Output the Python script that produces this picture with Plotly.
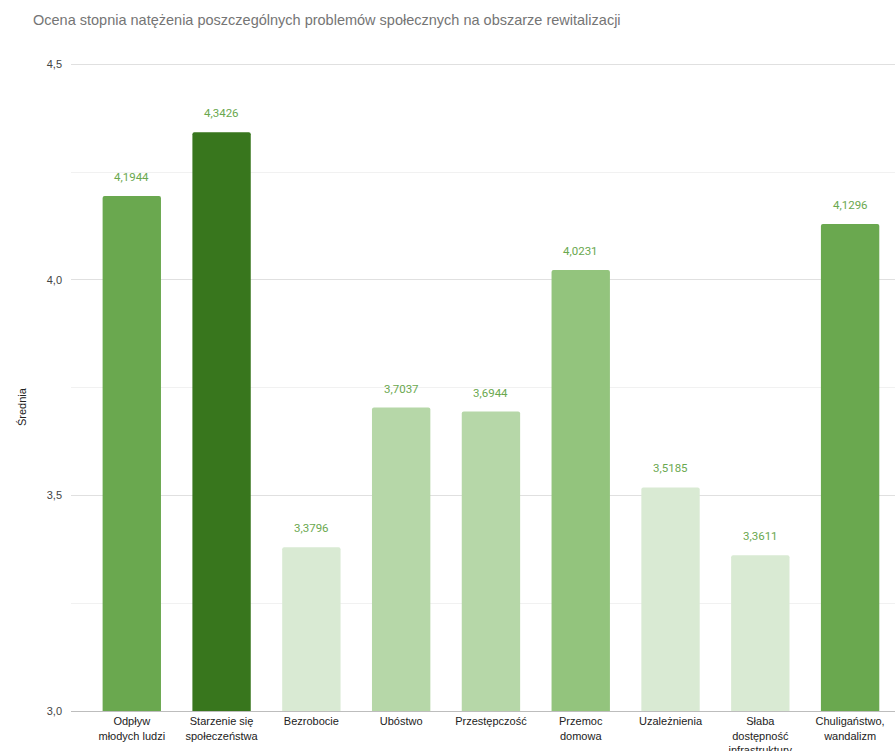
import plotly.graph_objects as go

categories = [
    "Odpływ<br>młodych ludzi",
    "Starzenie się<br>społeczeństwa",
    "Bezrobocie",
    "Ubóstwo",
    "Przestępczość",
    "Przemoc<br>domowa",
    "Uzależnienia",
    "Słaba<br>dostępność<br>infrastruktury",
    "Chuligaństwo,<br>wandalizm",
]
values = [4.1944, 4.3426, 3.3796, 3.7037, 3.6944, 4.0231, 3.5185, 3.3611, 4.1296]
bar_colors = ["#6aa84f", "#38761d", "#d9ead3", "#b6d7a8", "#b6d7a8",
              "#93c47d", "#d9ead3", "#d9ead3", "#6aa84f"]
y_ticks = [3.0, 3.5, 4.0, 4.5]

title_text = "Ocena stopnia natężenia poszczególnych problemów społecznych na obszarze rewitalizacji"
y_title = "Średnia"

W, H = 895, 751
ML, MR, MT, MB = 71, 0, 63, 40
x_idx = list(range(len(categories)))

fig = go.Figure()
fig.add_trace(go.Bar(
    x=x_idx, y=values,
    marker=dict(color=bar_colors, line=dict(width=0)),
    width=0.65,
    hoverinfo="skip",
))

for i, v in zip(x_idx, values):
    fig.add_annotation(
        x=i, y=v, xref="x", yref="y",
        text=f"{v:.4f}".replace(".", ","),
        showarrow=False, yshift=19, yanchor="middle",
        font=dict(family="Roboto", size=11.5, color="#6aa84f"),
    )

fig.add_annotation(
    x=(22 - ML) / (W - ML - MR), xref="paper", xanchor="center",
    y=(H - MB - 407) / (H - MT - MB), yref="paper", yanchor="middle",
    text=y_title, textangle=-90, showarrow=False,
    font=dict(family="Liberation Sans", size=11, color="#222222"),
)

fig.update_layout(
    width=W, height=H,
    margin=dict(l=ML, r=MR, t=MT, b=MB, pad=0, autoexpand=False),
    paper_bgcolor="white", plot_bgcolor="white",
    separators=",.",
    showlegend=False,
    barcornerradius=2,
    title=dict(text=title_text, x=33 / W, xanchor="left", y=1 - 20 / H, yanchor="middle",
               font=dict(family="Liberation Sans", size=14.5, color="#757575")),
    xaxis=dict(
        tickmode="array", tickvals=x_idx, ticktext=categories,
        range=[-0.677, 8.5], showgrid=False, zeroline=False, automargin=False,
        showline=True, linecolor="#bdbdbd", linewidth=1,
        ticks="", ticklabelstandoff=0,
        tickfont=dict(family="Liberation Sans", size=11, color="#222222"),
    ),
    yaxis=dict(
        range=[3.0, 4.503], tickmode="array", tickvals=y_ticks, automargin=False,
        tickformat=".1f", showgrid=True, gridcolor="#e0e0e0", gridwidth=1,
        zeroline=False, showline=False, ticks="", ticklabelstandoff=8,
        tickfont=dict(family="Liberation Sans", size=11, color="#444444"),
        minor=dict(dtick=0.25, tick0=3.0, showgrid=True, gridcolor="#f1f1f1", gridwidth=1),
    ),
)

fig.write_html(
    "out.html",
    config={"displayModeBar": False},
    post_script="document.body.style.margin='0';document.body.style.overflow='hidden';",
)
